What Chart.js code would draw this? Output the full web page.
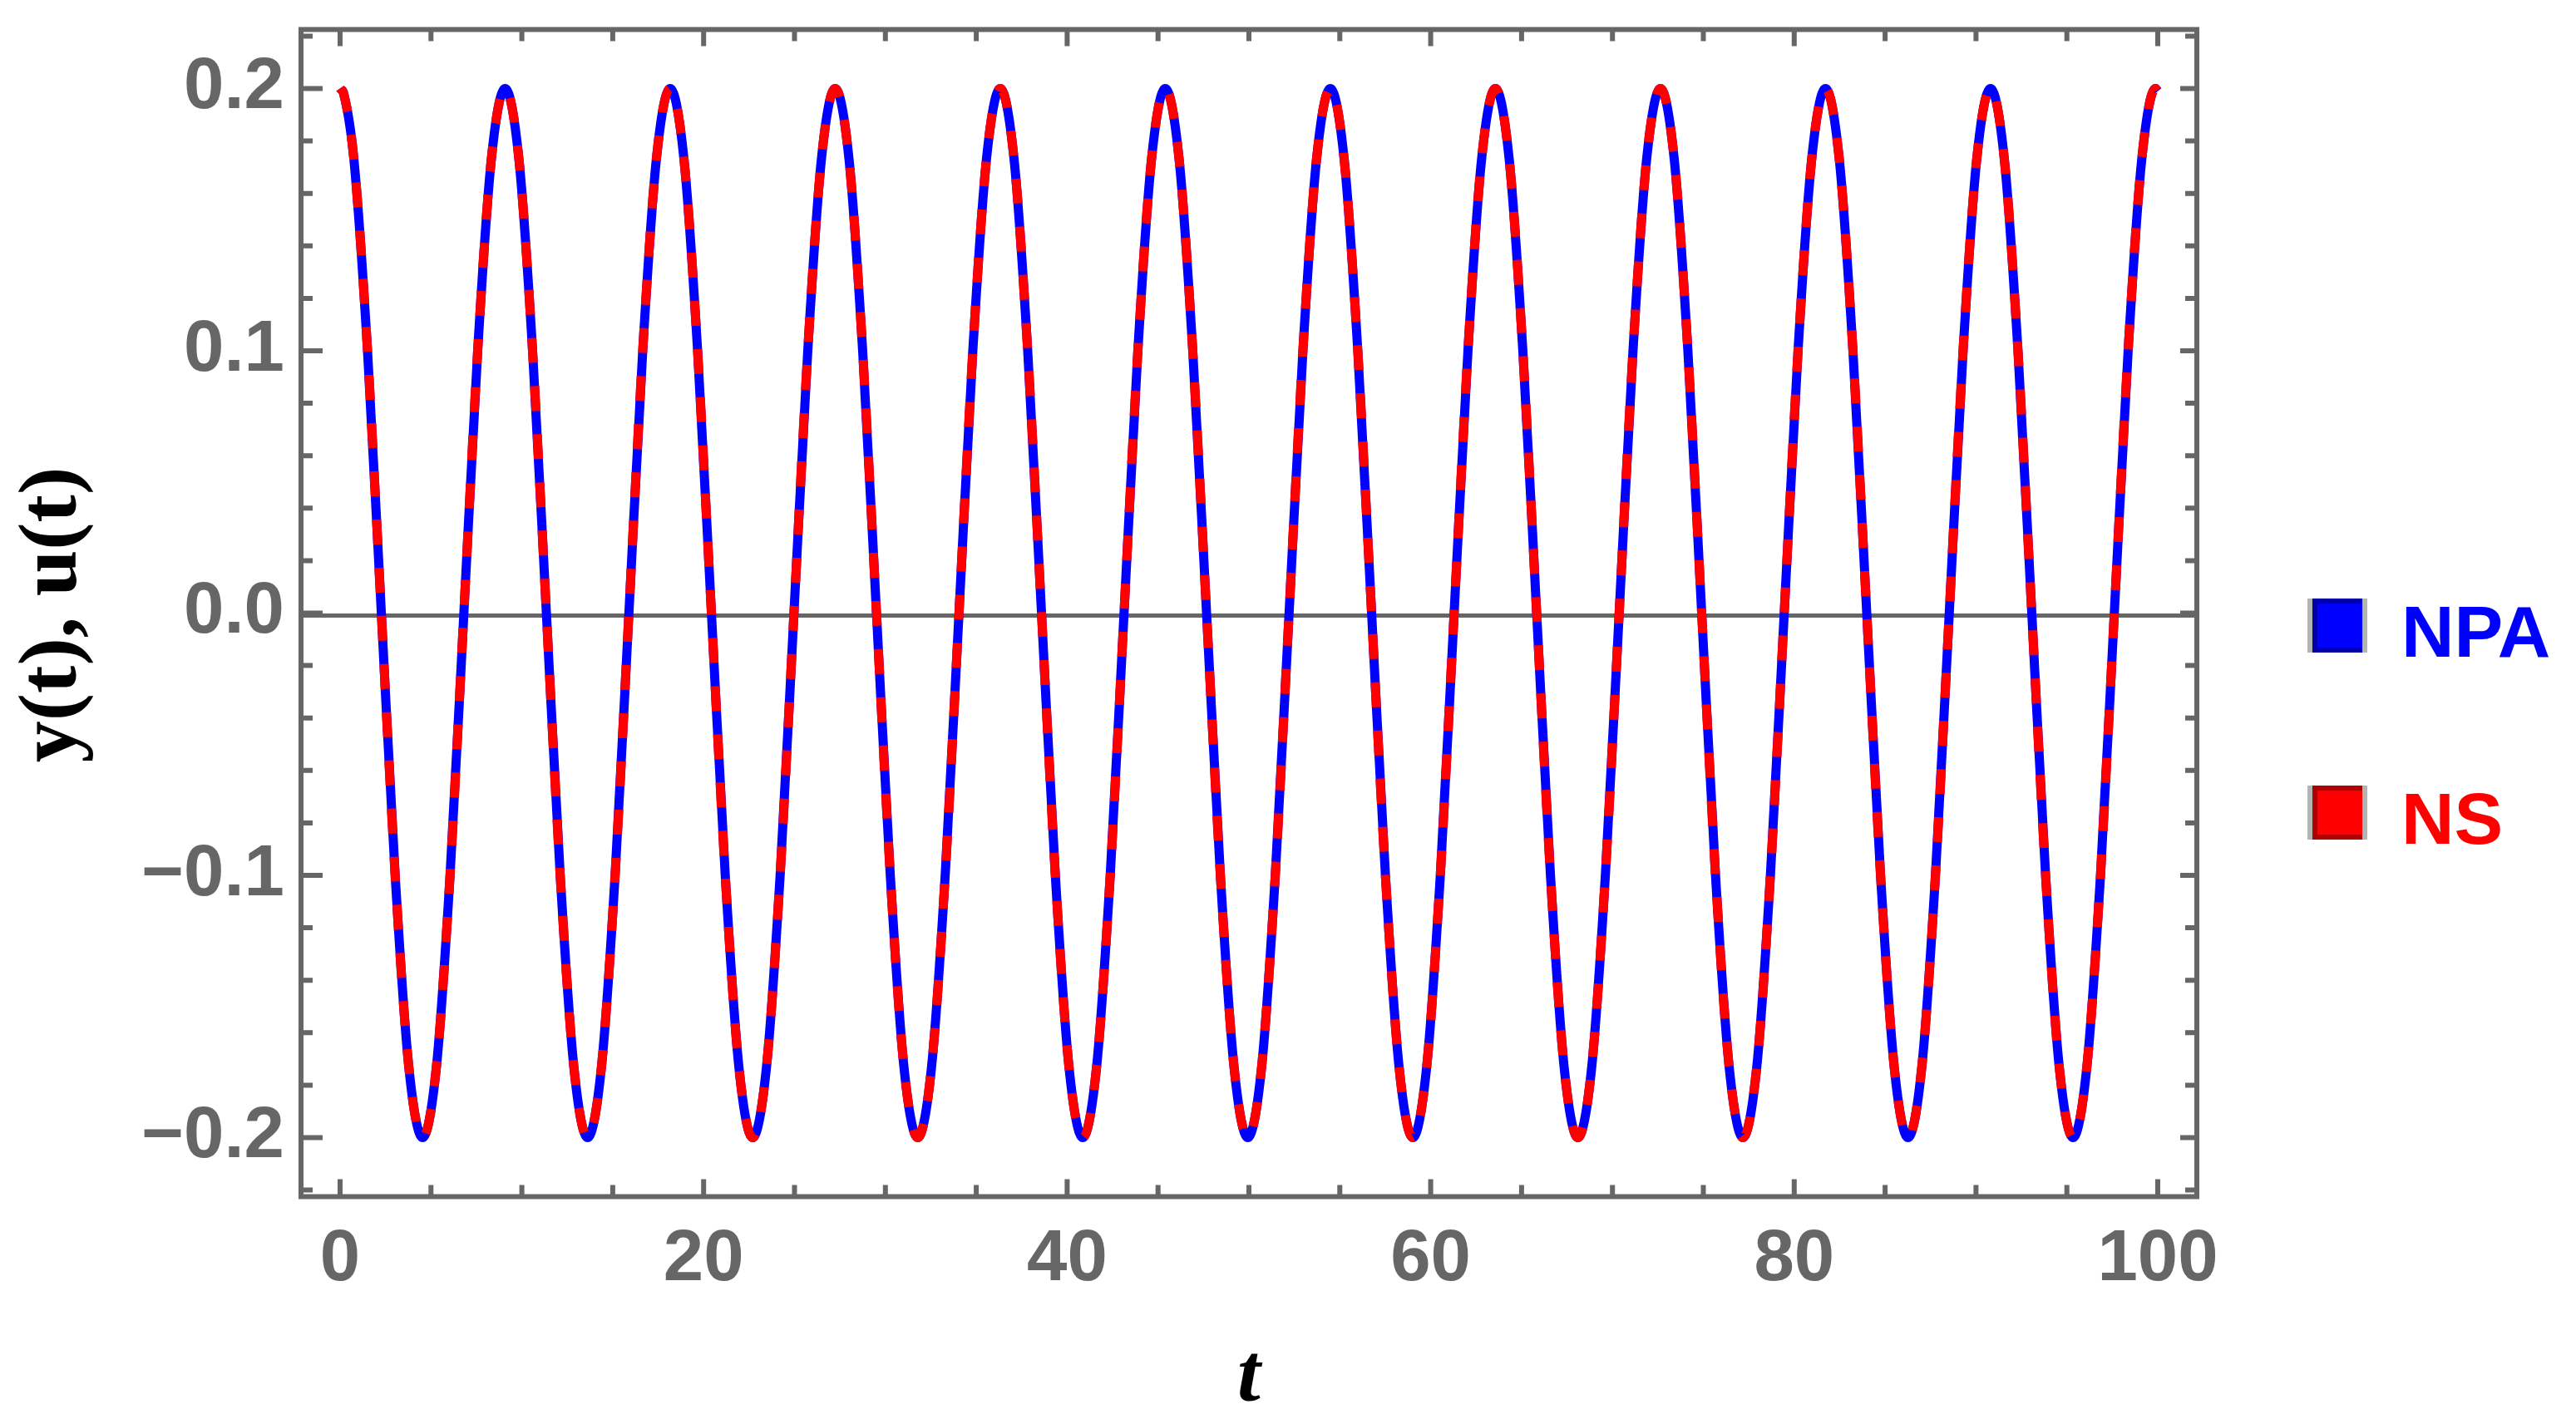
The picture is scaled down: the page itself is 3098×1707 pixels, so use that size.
<!DOCTYPE html>
<html>
<head>
<meta charset="utf-8">
<script src="https://cdn.jsdelivr.net/npm/chart.js@4/dist/chart.umd.min.js"></script>
<style>
  html, body { margin: 0; padding: 0; background: #ffffff; }
  canvas { display: block; }
</style>
</head>
<body>
<canvas id="c" width="3098" height="1707"></canvas>
<script>
// ---- data ----
const tValues = [
  0, 0.20, 0.76, 1.51, 2.27, 3.03, 3.78, 4.54, 5.30, 6.05, 6.81, 7.57, 8.32,
  9.08, 9.84, 10.59, 11.35, 12.11, 12.86, 13.62, 14.38, 15.13, 15.89, 16.65, 17.40,
  18.16, 18.92, 19.67, 20.43, 21.19, 21.94, 22.70, 23.46, 24.21, 24.97, 25.73, 26.48,
  27.24, 28.00, 28.75, 29.51, 30.27, 31.02, 31.78, 32.54, 33.29, 34.05, 34.81, 35.56,
  36.32, 37.08, 37.83, 38.59, 39.35, 40.10, 40.86, 41.62, 42.37, 43.13, 43.89, 44.64,
  45.40, 46.16, 46.91, 47.67, 48.43, 49.18, 49.94, 50.70, 51.45, 52.21, 52.97, 53.72,
  54.48, 55.24, 55.99, 56.75, 57.51, 58.26, 59.02, 59.78, 60.53, 61.29, 62.05, 62.80,
  63.56, 64.32, 65.07, 65.83, 66.59, 67.34, 68.10, 68.86, 69.61, 70.37, 71.13, 71.88,
  72.64, 73.40, 74.15, 74.91, 75.67, 76.42, 77.18, 77.94, 78.69, 79.45, 80.21, 80.96,
  81.72, 82.48, 83.23, 83.99, 84.75, 85.50, 86.26, 87.02, 87.77, 88.53, 89.29, 90.04,
  90.80, 91.56, 92.31, 93.07, 93.83, 94.58, 95.34, 96.10, 96.85, 97.61, 98.37, 99.12,
  99.88, 100
];
const npaValues = [
  0.2, 0.198, 0.173, 0.1, 0, -0.1, -0.173, -0.2, -0.173, -0.1, 0, 0.1, 0.173,
  0.2, 0.173, 0.1, 0, -0.1, -0.173, -0.2, -0.173, -0.1, 0, 0.1, 0.173,
  0.2, 0.173, 0.1, 0, -0.1, -0.173, -0.2, -0.173, -0.1, 0, 0.1, 0.173,
  0.2, 0.173, 0.1, 0, -0.1, -0.173, -0.2, -0.173, -0.1, 0, 0.1, 0.173,
  0.2, 0.173, 0.1, 0, -0.1, -0.173, -0.2, -0.173, -0.1, 0, 0.1, 0.173,
  0.2, 0.173, 0.1, 0, -0.1, -0.173, -0.2, -0.173, -0.1, 0, 0.1, 0.173,
  0.2, 0.173, 0.1, 0, -0.1, -0.173, -0.2, -0.173, -0.1, 0, 0.1, 0.173,
  0.2, 0.173, 0.1, 0, -0.1, -0.173, -0.2, -0.173, -0.1, 0, 0.1, 0.173,
  0.2, 0.173, 0.1, 0, -0.1, -0.173, -0.2, -0.173, -0.1, 0, 0.1, 0.173,
  0.2, 0.173, 0.1, 0, -0.1, -0.173, -0.2, -0.173, -0.1, 0, 0.1, 0.173,
  0.2, 0.173, 0.1, 0, -0.1, -0.173, -0.2, -0.173, -0.1, 0, 0.1, 0.173,
  0.2, 0.199
];
const nsValues = [
  0.2, 0.198, 0.173, 0.1, 0, -0.1, -0.173, -0.2, -0.173, -0.1, 0, 0.1, 0.173,
  0.2, 0.173, 0.1, 0, -0.1, -0.173, -0.2, -0.173, -0.1, 0, 0.1, 0.173,
  0.2, 0.173, 0.1, 0, -0.1, -0.173, -0.2, -0.173, -0.1, 0, 0.1, 0.173,
  0.2, 0.173, 0.1, 0, -0.1, -0.173, -0.2, -0.173, -0.1, 0, 0.1, 0.173,
  0.2, 0.173, 0.1, 0, -0.1, -0.173, -0.2, -0.173, -0.1, 0, 0.1, 0.173,
  0.2, 0.173, 0.1, 0, -0.1, -0.173, -0.2, -0.173, -0.1, 0, 0.1, 0.173,
  0.2, 0.173, 0.1, 0, -0.1, -0.173, -0.2, -0.173, -0.1, 0, 0.1, 0.173,
  0.2, 0.173, 0.1, 0, -0.1, -0.173, -0.2, -0.173, -0.1, 0, 0.1, 0.173,
  0.2, 0.173, 0.1, 0, -0.1, -0.173, -0.2, -0.173, -0.1, 0, 0.1, 0.173,
  0.2, 0.173, 0.1, 0, -0.1, -0.173, -0.2, -0.173, -0.1, 0, 0.1, 0.173,
  0.2, 0.173, 0.1, 0, -0.1, -0.173, -0.2, -0.173, -0.1, 0, 0.1, 0.173,
  0.2, 0.199
];
const seriesNames = ['NPA', 'NS'];
const xTickValues = [0, 20, 40, 60, 80, 100];
const xTickLabels = ['0', '20', '40', '60', '80', '100'];
const xMinorTicks = [5, 10, 15, 25, 30, 35, 45, 50, 55, 65, 70, 75, 85, 90, 95];
const yTickValues = [0.2, 0.1, 0, -0.1, -0.2];
const yTickLabels = ['0.2', '0.1', '0.0', '\u22120.1', '\u22120.2'];
const yMinorTicks = [0.22, 0.18, 0.16, 0.14, 0.12, 0.08, 0.06, 0.04, 0.02, -0.02, -0.04, -0.06, -0.08, -0.12, -0.14, -0.16, -0.18, -0.22];
const xTitle = 't';
const yTitle = 'y(t), u(t)';

// ---- styling ----
const FRAME = '#666666';
const tickFont = { family: 'Liberation Sans, Arial, sans-serif', weight: 'bold', size: 87, lineHeight: 1 };

const framePlugin = {
  id: 'framePlugin',
  beforeDatasetsDraw(chart) {
    const { ctx, chartArea: a, scales } = chart;
    const y0 = scales.y.getPixelForValue(0) + 3;
    ctx.save();
    ctx.strokeStyle = FRAME;
    ctx.lineWidth = 5;
    ctx.beginPath();
    ctx.moveTo(a.left, y0);
    ctx.lineTo(a.right, y0);
    ctx.stroke();
    ctx.restore();
  },
  afterDatasetsDraw(chart) {
    const { ctx, chartArea: a, scales } = chart;
    const xs = scales.x, ys = scales.y;
    ctx.save();
    ctx.strokeStyle = FRAME;
    ctx.lineWidth = 6;
    ctx.lineCap = 'butt';
    ctx.beginPath();
    xTickValues.forEach(v => {
      const p = xs.getPixelForValue(v);
      ctx.moveTo(p, a.bottom); ctx.lineTo(p, a.bottom - 21);
      ctx.moveTo(p, a.top); ctx.lineTo(p, a.top + 20);
    });
    xMinorTicks.forEach(v => {
      const p = xs.getPixelForValue(v);
      ctx.moveTo(p, a.bottom); ctx.lineTo(p, a.bottom - 14);
      ctx.moveTo(p, a.top); ctx.lineTo(p, a.top + 14);
    });
    yTickValues.forEach(v => {
      const p = ys.getPixelForValue(v);
      ctx.moveTo(a.left, p); ctx.lineTo(a.left + 26, p);
      ctx.moveTo(a.right, p); ctx.lineTo(a.right - 20, p);
    });
    yMinorTicks.forEach(v => {
      const p = ys.getPixelForValue(v);
      ctx.moveTo(a.left, p); ctx.lineTo(a.left + 14, p);
      ctx.moveTo(a.right, p); ctx.lineTo(a.right - 14, p);
    });
    ctx.stroke();
    ctx.strokeRect(a.left, a.top, a.right - a.left, a.bottom - a.top);
    ctx.restore();
  },
  afterDraw(chart) {
    const { ctx, chartArea: a, scales } = chart;
    ctx.save();
    // y title
    ctx.fillStyle = '#000000';
    ctx.font = 'bold 100px "Liberation Serif", "Times New Roman", serif';
    ctx.textAlign = 'center';
    ctx.textBaseline = 'alphabetic';
    ctx.translate(91, (a.top + a.bottom) / 2 + 2);
    ctx.rotate(-Math.PI / 2);
    ctx.fillText(yTitle, 0, 0);
    ctx.restore();
    ctx.save();
    ctx.fillStyle = '#000000';
    ctx.font = 'italic bold 100px "Liberation Serif", "Times New Roman", serif';
    ctx.textAlign = 'center';
    ctx.textBaseline = 'alphabetic';
    const xc = (scales.x.getPixelForValue(0) + scales.x.getPixelForValue(100)) / 2;
    ctx.fillText(xTitle, xc, 1685);
    ctx.restore();
    // legend
    const ds = chart.data.datasets;
    const rows = [{ top: 720, base: 790 }, { top: 945, base: 1015 }];
    const darks = ['#0000a8', '#b00000'];
    ds.forEach((d, i) => {
      const r = rows[i];
      ctx.save();
      ctx.fillStyle = '#b4b4b4';
      ctx.fillRect(2775, r.top, 72, 65);
      ctx.fillStyle = darks[i];
      ctx.fillRect(2781, r.top, 60, 65);
      ctx.fillStyle = d.borderColor;
      ctx.fillRect(2787, r.top + 6, 54, 53);
      ctx.font = 'bold 88px "Liberation Sans", Arial, sans-serif';
      ctx.textAlign = 'left';
      ctx.textBaseline = 'alphabetic';
      ctx.fillText(d.label, 2888, r.base);
      ctx.restore();
    });
  }
};

new Chart(document.getElementById('c'), {
  type: 'line',
  data: {
    datasets: [
      {
        label: seriesNames[0],
        data: tValues.map((t, i) => ({ x: t, y: npaValues[i] })),
        borderColor: '#0000ff',
        borderWidth: 11,
        pointRadius: 0,
        cubicInterpolationMode: 'monotone',
        fill: false,
        order: 1
      },
      {
        label: seriesNames[1],
        data: tValues.map((t, i) => ({ x: t, y: nsValues[i] })),
        borderColor: '#ff0000',
        borderWidth: 11,
        borderDash: [30, 28],
        borderCapStyle: 'butt',
        pointRadius: 0,
        cubicInterpolationMode: 'monotone',
        fill: false,
        order: 0
      }
    ]
  },
  options: {
    responsive: false,
    animation: false,
    devicePixelRatio: 1,
    layout: { padding: { left: 0, right: 456, top: 35.5, bottom: 0 } },
    plugins: { legend: { display: false }, tooltip: { enabled: false }, title: { display: false } },
    scales: {
      x: {
        type: 'linear',
        min: -2.15,
        max: 102.15,
        grid: { display: false, drawTicks: false },
        border: { display: false },
        afterBuildTicks: s => { s.ticks = xTickValues.map(v => ({ value: v })); },
        afterFit: s => { s.height = 1707 - 1439.5; s.paddingLeft = 0; s.paddingRight = 0; },
        ticks: {
          font: tickFont, color: FRAME, padding: 33, maxRotation: 0, minRotation: 0, autoSkip: false,
          callback: (v, i) => xTickLabels[i]
        }
      },
      y: {
        type: 'linear',
        min: -0.2225,
        max: 0.2225,
        grid: { display: false, drawTicks: false },
        border: { display: false },
        afterBuildTicks: s => { s.ticks = yTickValues.map(v => ({ value: v })); },
        afterFit: s => { s.width = 362; s.paddingTop = 0; s.paddingBottom = 0; },
        ticks: {
          font: tickFont, color: FRAME, padding: 20, autoSkip: false,
          callback: (v, i) => yTickLabels[i]
        }
      }
    }
  },
  plugins: [framePlugin]
});
</script>
</body>
</html>
